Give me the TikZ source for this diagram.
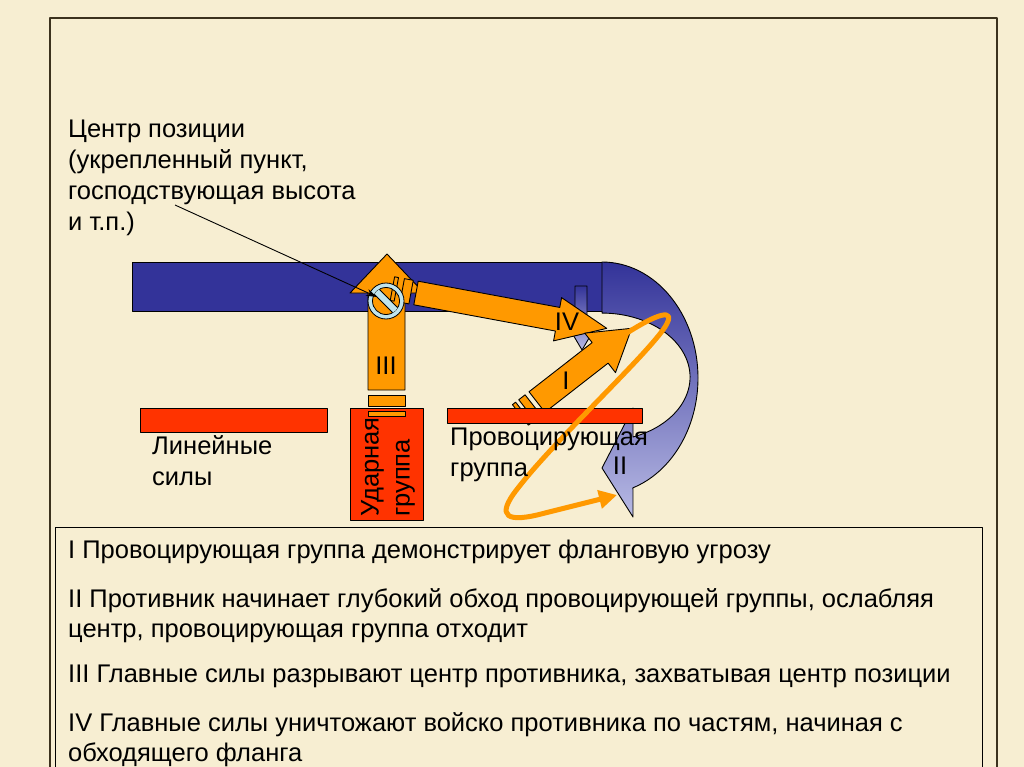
\documentclass[tikz,border=0pt]{standalone}
\usepackage{fontspec}
\setmainfont{Liberation Sans}
\usetikzlibrary{arrows.meta}
\definecolor{paper}{RGB}{247,238,210}
\definecolor{framegray}{RGB}{60,50,30}
\definecolor{foeblue}{RGB}{51,51,153}
\definecolor{foemid}{RGB}{100,102,178}
\definecolor{foelight}{RGB}{184,186,228}
\definecolor{ownorange}{RGB}{255,153,0}
\definecolor{ownred}{RGB}{255,51,0}
\definecolor{signblue}{RGB}{192,228,236}

\begin{document}
\begin{tikzpicture}[x=1pt,y=-1pt,line join=round,
  ownarrow/.style={draw=black,fill=ownorange,line width=0.9pt},
  redbar/.style={draw=black,fill=ownred,line width=0.9pt},
  lbl/.style={font=\fontsize{25.5}{31}\selectfont,inner sep=0pt,align=left,text=black},
  note/.style={font=\fontsize{25.5}{30}\selectfont,inner sep=0pt,align=left,anchor=north west}]
\useasboundingbox (0,0) rectangle (1024,767);
\clip (0,0) rectangle (1024,767);
\fill[paper] (0,0) rectangle (1024,767);
\draw[framegray,line width=1.5pt] (50,18) rectangle (997,800);

% enemy line and its flank march
\draw[draw=black,fill=foeblue,line width=0.9pt] (132,262) rectangle (602,311);
\shadedraw[top color=foeblue,middle color=foemid,bottom color=foelight,draw=black,line width=0.9pt]
  (602,262) arc[start angle=-90,end angle=71.2,x radius=96,y radius=116]
  -- (633,517) -- (602,468) -- (633,408) -- (633,437)
  arc[start angle=69.4,end angle=-90,x radius=88,y radius=64] -- cycle;
\shadedraw[top color=foeblue,bottom color=foelight,draw=black,line width=0.9pt]
  (575,286) -- (587,286) -- (587,333) -- (592,333) -- (582,350) -- (572,333) -- (575,333) -- cycle;

% III: breakthrough of the centre
\draw[ownarrow] (368,390) -- (368,293) -- (350,293) -- (387,254) -- (424,293) -- (405,293) -- (405,390) -- cycle;
\draw[ownarrow] (368,395) rectangle (405,406);

% IV: along the enemy line
\begin{scope}[shift={(416,293)},rotate=-10.5]
  \draw[ownarrow] (0,-12) -- (144,-12) -- (144,-22) -- (194,0) -- (144,22) -- (144,12) -- (0,12) -- cycle;
  \draw[ownarrow] (-14,-12) rectangle (-5,12);
  \draw[ownarrow] (-24,-12) rectangle (-20,12);
\end{scope}

% I: flank threat
\begin{scope}[shift={(537,402)},rotate=37.9]
  \draw[ownarrow] (0,-13) -- (80,-13) -- (80,-25) -- (120,0) -- (80,25) -- (80,13) -- (0,13) -- cycle;
  \draw[ownarrow] (-13,-13) rectangle (-5,13);
  \draw[ownarrow] (-21,-13) rectangle (-17,13);
\end{scope}

% centre of the position
\coordinate (ctr) at (386,301);
\coordinate (ctrtip) at (377,297);
\draw[draw=black,fill=signblue,line width=0.8pt,even odd rule] (ctr) circle[radius=18] (ctr) circle[radius=13.5];
\begin{scope}
  \clip (ctr) circle[radius=13.5];
  \draw[draw=black,fill=signblue,line width=0.8pt,shift={(ctr)},rotate=-45] (-16,-3.5) rectangle (16,3.5);
\end{scope}

% own groups
\draw[redbar] (140,408) rectangle (327,432);
\draw[redbar] (350,408) rectangle (423,520);
\draw[redbar] (447,408) rectangle (642,423);
\draw[ownarrow] (368,411) rectangle (405,416);

% retreat of the provoking group
\draw[ownorange,line width=5pt,line cap=round,-{Triangle[length=18pt,width=18pt]}]
  (627,333) .. controls (655,315) and (678,306) .. (665,327)
  .. controls (645,357) and (555,440) .. (518,488)
  .. controls (494,518) and (508,523) .. (545,513) -- (617,495);

% labels
\node[lbl,anchor=north west] (pos) at (68,120) {Центр позиции\\(укрепленный пункт,\\господствующая высота\\и т.п.)};
\coordinate (ptr) at (175,205);
\draw[black,line width=0.9pt,-{Stealth[length=11pt,width=7pt]}] (ptr) -- (ctrtip);
\node[lbl,anchor=north west] (linelbl) at (152,435) {Линейные\\силы};
\node[lbl,anchor=north west] (provlbl) at (450,428) {Провоцирующая\\группа};
\node[lbl,rotate=90,anchor=west] (udarlbl) at (388,517) {Ударная\\группа};
\node[lbl] (labIII) at (386,366) {III};
\node[lbl] (labIV) at (567,322) {IV};
\node[lbl] (labI) at (566,381) {I};
\node[lbl] (labII) at (620,466) {II};

% explanation
\draw[black,line width=1pt] (55,527) rectangle (982,800);
\node[note] (n1) at (68,540) {I Провоцирующая группа демонстрирует фланговую угрозу};
\node[note] (n2) at (68,588) {II Противник начинает глубокий обход провоцирующей группы, ослабляя\\центр, провоцирующая группа отходит};
\node[note] (n3) at (68,665) {III Главные силы разрывают центр противника, захватывая центр позиции};
\node[note] (n4) at (68,712) {IV Главные силы уничтожают войско противника по частям, начиная с\\обходящего фланга};
\end{tikzpicture}
\end{document}
